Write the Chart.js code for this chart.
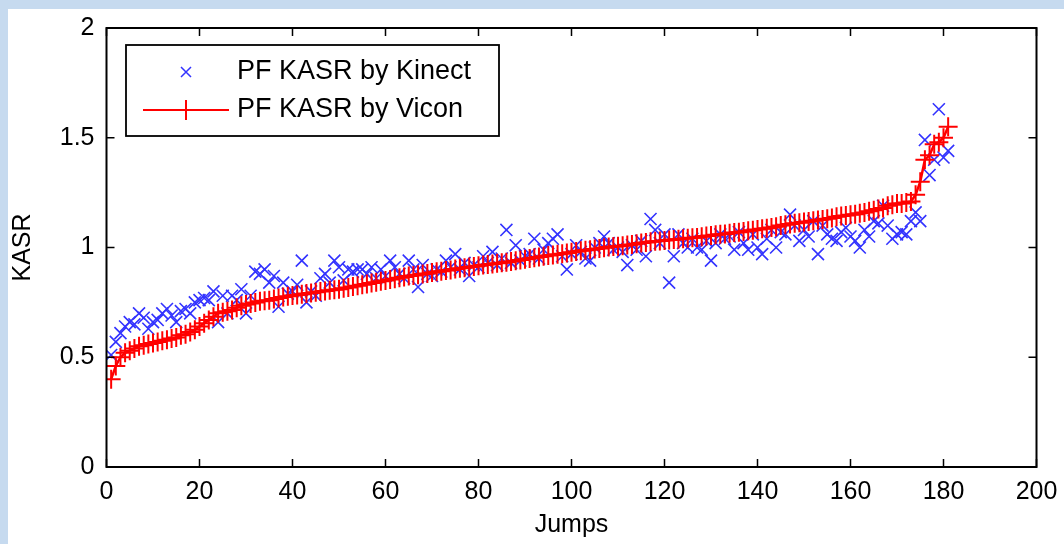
<!DOCTYPE html>
<html>
<head>
<meta charset="utf-8">
<script src="https://cdn.jsdelivr.net/npm/chart.js@4.4.1/dist/chart.umd.min.js"></script>
<style>
    html, body { margin: 0; padding: 0; background: #c6daef; }
    #frame { position: absolute; left: 8px; top: 9px; width: 1056px; height: 535px; background: #fff; }
</style>
</head>
<body>
<div id="frame"><canvas id="kasr-chart" width="1056" height="535"></canvas></div>
<script>
'use strict';

// PF KASR per jump (jump number = position in the array, starting at 1)
var kinectKasr = [
    0.51, 0.57, 0.61, 0.64, 0.66, 0.65, 0.70, 0.68, 0.63, 0.66,
    0.67, 0.70, 0.72, 0.69, 0.66, 0.71, 0.72, 0.70, 0.75, 0.76,
    0.77, 0.76, 0.80, 0.66, 0.78, 0.70, 0.78, 0.76, 0.81, 0.70,
    0.78, 0.89, 0.88, 0.90, 0.84, 0.87, 0.73, 0.84, 0.79, 0.80,
    0.83, 0.94, 0.75, 0.80, 0.78, 0.86, 0.88, 0.84, 0.94, 0.91,
    0.85, 0.90, 0.89, 0.90, 0.90, 0.88, 0.91, 0.86, 0.90, 0.87,
    0.94, 0.91, 0.88, 0.86, 0.94, 0.90, 0.82, 0.92, 0.88, 0.87,
    0.90, 0.89, 0.94, 0.91, 0.97, 0.90, 0.93, 0.87, 0.92, 0.91,
    0.96, 0.93, 0.98, 0.92, 0.95, 1.08, 0.93, 1.01, 0.94, 0.96,
    0.97, 1.04, 0.95, 0.99, 1.02, 1.04, 1.06, 0.96, 0.90, 0.97,
    1.01, 0.98, 0.95, 0.94, 1.00, 1.02, 1.05, 1.02, 0.99, 1.00,
    0.98, 0.92, 1.01, 0.99, 1.03, 0.96, 1.13, 1.08, 1.02, 1.06,
    0.84, 0.96, 1.06, 1.02, 1.00, 1.04, 1.00, 0.99, 1.03, 0.94,
    1.02, 1.06, 1.04, 1.05, 0.99, 1.07, 1.02, 0.99, 1.06, 1.00,
    0.97, 1.04, 1.08, 1.00, 1.07, 1.06, 1.15, 1.10, 1.03, 1.08,
    1.05, 1.12, 0.97, 1.10, 1.06, 1.04, 1.03, 1.07, 1.09, 1.05,
    1.03, 1.00, 1.08, 1.05, 1.12, 1.11, 1.19, 1.10, 1.04, 1.06,
    1.07, 1.06, 1.12, 1.16, 1.12, 1.49, 1.33, 1.40, 1.63, 1.41,
    1.44
];

var viconKasr = [
    0.40, 0.46, 0.50, 0.52, 0.53, 0.54, 0.55, 0.555, 0.56, 0.565,
    0.57, 0.575, 0.58, 0.585, 0.59, 0.60, 0.605, 0.615, 0.625, 0.64,
    0.655, 0.67, 0.685, 0.70, 0.705, 0.71, 0.715, 0.725, 0.735, 0.74,
    0.745, 0.75, 0.755, 0.757, 0.76, 0.765, 0.77, 0.774, 0.778, 0.781,
    0.784, 0.787, 0.79, 0.793, 0.796, 0.799, 0.802, 0.805, 0.808, 0.81,
    0.814, 0.818, 0.822, 0.826, 0.83, 0.834, 0.838, 0.842, 0.846, 0.85,
    0.854, 0.858, 0.862, 0.866, 0.87, 0.873, 0.876, 0.879, 0.882, 0.886,
    0.889, 0.892, 0.895, 0.898, 0.902, 0.905, 0.908, 0.911, 0.914, 0.917,
    0.92, 0.922, 0.925, 0.928, 0.93, 0.933, 0.936, 0.94, 0.943, 0.946,
    0.95, 0.953, 0.957, 0.96, 0.963, 0.966, 0.969, 0.972, 0.975, 0.978,
    0.982, 0.985, 0.988, 0.99, 0.993, 0.996, 0.999, 1.002, 1.004, 1.006,
    1.008, 1.011, 1.014, 1.017, 1.02, 1.023, 1.026, 1.028, 1.03, 1.032,
    1.034, 1.036, 1.038, 1.04, 1.042, 1.044, 1.046, 1.049, 1.052, 1.055,
    1.058, 1.06, 1.062, 1.065, 1.068, 1.07, 1.073, 1.076, 1.079, 1.082,
    1.085, 1.088, 1.091, 1.095, 1.10, 1.104, 1.107, 1.11, 1.113, 1.116,
    1.119, 1.122, 1.125, 1.128, 1.131, 1.134, 1.14, 1.143, 1.146, 1.149,
    1.152, 1.156, 1.16, 1.165, 1.17, 1.175, 1.18, 1.19, 1.195, 1.20,
    1.20, 1.205, 1.21, 1.24, 1.30, 1.40, 1.42, 1.47, 1.48, 1.50,
    1.55
];

var seriesLabels = ['PF KASR by Kinect', 'PF KASR by Vicon'];
var xTicks = [0, 20, 40, 60, 80, 100, 120, 140, 160, 180, 200];
var yTicks = [0, 0.5, 1, 1.5, 2];

const fontFamily = '"Liberation Sans", Arial, sans-serif';
const kinectColor = '#3333ff';
const viconColor = '#ff0000';

function toPoints(values) {
    return values.map(function (v, i) {
        return { x: i + 1, y: v };
    });
}

// matlab style box: frame, inward ticks on all four sides, legend in the corner
var matlabAxes = {
    id: 'matlabAxes',
    afterDatasetsDraw: function (chart) {
        const ctx = chart.ctx;
        const a = chart.chartArea;
        const xs = chart.scales.x;
        const ys = chart.scales.y;
        const tick = 8;

        ctx.save();
        ctx.strokeStyle = '#000';
        ctx.lineWidth = 1.5;
        ctx.beginPath();
        xs.ticks.forEach(function (t) {
            const px = xs.getPixelForValue(t.value);
            ctx.moveTo(px, a.bottom);
            ctx.lineTo(px, a.bottom - tick);
            ctx.moveTo(px, a.top);
            ctx.lineTo(px, a.top + tick);
        });
        ys.ticks.forEach(function (t) {
            const py = ys.getPixelForValue(t.value);
            ctx.moveTo(a.left, py);
            ctx.lineTo(a.left + tick, py);
            ctx.moveTo(a.right, py);
            ctx.lineTo(a.right - tick, py);
        });
        ctx.stroke();

        ctx.lineWidth = 2;
        ctx.strokeRect(a.left, a.top, a.right - a.left, a.bottom - a.top);

        // legend
        const lx = a.left + 19.5;
        const ly = a.top + 17;
        const lw = 373;
        const lh = 91;
        ctx.fillStyle = '#fff';
        ctx.fillRect(lx, ly, lw, lh);
        ctx.lineWidth = 1.8;
        ctx.strokeRect(lx, ly, lw, lh);

        const row1 = ly + 27;
        const row2 = ly + 65;
        const mx = lx + 60;

        ctx.strokeStyle = kinectColor;
        ctx.lineWidth = 1.5;
        ctx.beginPath();
        ctx.moveTo(mx - 5, row1 - 5);
        ctx.lineTo(mx + 5, row1 + 5);
        ctx.moveTo(mx + 5, row1 - 5);
        ctx.lineTo(mx - 5, row1 + 5);
        ctx.stroke();

        ctx.strokeStyle = viconColor;
        ctx.lineWidth = 2;
        ctx.beginPath();
        ctx.moveTo(lx + 17, row2);
        ctx.lineTo(lx + 103, row2);
        ctx.moveTo(mx, row2 - 10);
        ctx.lineTo(mx, row2 + 10);
        ctx.stroke();

        ctx.fillStyle = '#000';
        ctx.font = '27px ' + fontFamily;
        ctx.textBaseline = 'middle';
        ctx.textAlign = 'left';
        ctx.fillText(seriesLabels[0], lx + 111, row1);
        ctx.fillText(seriesLabels[1], lx + 111, row2);
        ctx.restore();
    }
};

var kasrChart = new Chart(document.getElementById('kasr-chart'), {
    type: 'scatter',
    data: {
        datasets: [
            {
                label: seriesLabels[0],
                data: toPoints(kinectKasr),
                showLine: false,
                pointStyle: 'crossRot',
                pointRadius: 8.5,
                pointBorderWidth: 1.6,
                borderColor: kinectColor,
                backgroundColor: kinectColor,
                order: 1,
            },
            {
                label: seriesLabels[1],
                data: toPoints(viconKasr),
                showLine: true,
                borderWidth: 2.5,
                pointStyle: 'cross',
                pointRadius: 9.5,
                pointBorderWidth: 2,
                borderColor: viconColor,
                backgroundColor: viconColor,
                tension: 0,
                order: 0,
            },
        ],
    },
    options: {
        responsive: false,
        animation: false,
        devicePixelRatio: 1,
        events: [],
        layout: {
            padding: { top: 19, right: 27.5, left: 0, bottom: 0 },
        },
        plugins: {
            legend: { display: false },
            tooltip: { enabled: false },
        },
        scales: {
            x: {
                type: 'linear',
                min: 0,
                max: 200,
                afterBuildTicks: function (s) {
                    s.ticks = xTicks.map(function (v) { return { value: v }; });
                },
                afterFit: function (s) {
                    s.height = 77;
                    s.paddingLeft = 0;
                    s.paddingRight = 0;
                },
                grid: { display: false, drawTicks: false },
                border: { display: false },
                ticks: {
                    color: '#000',
                    font: { family: fontFamily, size: 25 },
                    padding: 10,
                    maxRotation: 0,
                    autoSkip: false,
                    callback: function (v) { return String(v); },
                },
                title: {
                    display: true,
                    text: 'Jumps',
                    color: '#000',
                    font: { family: fontFamily, size: 25 },
                    padding: { top: 0, bottom: 4 },
                },
            },
            y: {
                type: 'linear',
                min: 0,
                max: 2,
                afterBuildTicks: function (s) {
                    s.ticks = yTicks.map(function (v) { return { value: v }; });
                },
                afterFit: function (s) {
                    s.width = 98.5;
                    s.paddingTop = 0;
                    s.paddingBottom = 0;
                },
                grid: { display: false, drawTicks: false },
                border: { display: false },
                ticks: {
                    color: '#000',
                    font: { family: fontFamily, size: 25 },
                    padding: 12,
                    autoSkip: false,
                    callback: function (v) { return String(v); },
                },
                title: {
                    display: true,
                    text: 'KASR',
                    color: '#000',
                    font: { family: fontFamily, size: 25 },
                    padding: { top: 0, bottom: 0 },
                },
            },
        },
    },
    plugins: [matlabAxes],
});
</script>
</body>
</html>
